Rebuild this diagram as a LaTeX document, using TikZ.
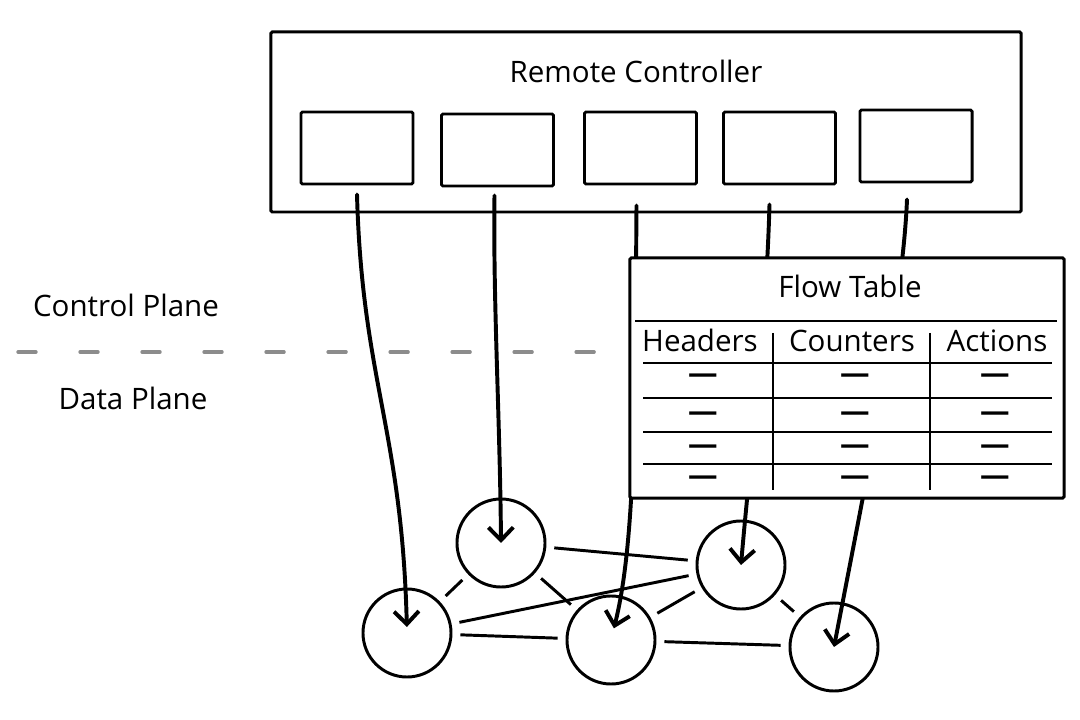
\documentclass[tikz,border=0pt]{standalone}
\usepackage{fontspec}
\setmainfont{Open Sans}
\usepackage{tikz}
\usetikzlibrary{arrows.meta,calc}
\definecolor{dgray}{RGB}{140,140,140}
\tikzstyle{arr}=[-{Straight Barb[length=0.32cm,width=0.62cm]},line width=2.8pt,line cap=round]

\begin{document}
\begin{tikzpicture}[x=0.025cm,y=-0.025cm]
  \tikzstyle box=[draw,line width=2.1pt,rounded corners=1pt,fill=white];
  \tikzstyle sw=[draw,circle,line width=2.1pt,minimum size=2.2cm,inner sep=0pt];
  \tikzstyle ln=[line width=2.1pt,shorten >=0.2cm,shorten <=0.2cm];
  \tikzstyle lbl=[font=\fontsize{21pt}{25pt}\selectfont,anchor=base,inner sep=0pt];
  \tikzstyle tl=[line width=2.1pt];
  \useasboundingbox (0,0) rectangle (1080,720);

  % controller
  \node[box,minimum width=18.75cm,minimum height=4.5cm] (rc) at (646,122) {};
  \node[lbl] (rctext) at (636,83) {Remote Controller};
  \foreach \x/\y [count=\i] in {357/148,497.5/150,640.5/148,779.5/148,916/146}
    \node[box,minimum width=2.8cm,minimum height=1.8cm] (b\i) at (\x,\y) {};

  % planes
  \node[lbl] (cp) at (126,317) {Control Plane};
  \node[lbl] (dp) at (133,410) {Data Plane};
  \draw[dgray,line width=2.4pt,line cap=round,dash pattern=on 0.45cm off 1.1cm] (18,352) -- (612,352);

  % switches
  \node[sw] (n1) at (407,633) {};
  \node[sw] (n2) at (501,543) {};
  \node[sw] (n3) at (611,640) {};
  \node[sw] (n4) at (741,565) {};
  \node[sw] (n5) at (834,647) {};
  \draw[ln] (n2) -- (n4);
  \draw[ln] (n1) -- (n2);
  \draw[ln] (n2) -- (n3);
  \draw[ln] (n1) -- (n4);
  \draw[ln] (n1) -- (n3);
  \draw[ln] (n3) -- (n4);
  \draw[ln] (n4) -- (n5);
  \draw[ln] (n3) -- (n5);

  % rules pushed down
  \draw[arr,shorten >=0.15cm] ($(b1.south)+(0,9)$) .. controls (362,380) and (402,430) .. (n1.center);
  \draw[arr] ($(b2.south)+(-3,8)$) .. controls (493,300) and (500,420) .. (n2.center);
  \draw[arr,shorten >=0.3cm] ($(b3.south)+(-4,20)$) .. controls (635,400) and (636,540) .. (n3.center);
  \draw[arr] ($(b4.south)+(-10,19)$) .. controls (766,330) and (750,460) .. (n4.center);
  \draw[arr] ($(b5.south)+(-9,16)$) .. controls (903,300) and (870,460) .. (n5.center);

  % flow table
  \node[box,minimum width=10.85cm,minimum height=6cm] (ft) at (847,378) {};
  \node[lbl] (fttext) at (850,298) {Flow Table};
  \draw[tl] (635,321) -- (1057,321);
  \node[lbl] (hd) at (700,352) {Headers};
  \node[lbl] (ct) at (852,352) {Counters};
  \node[lbl] (ac) at (997,352) {Actions};
  \draw[tl] (773,333) -- (773,490);
  \draw[tl] (930,333) -- (930,490);
  \foreach \y in {363,398,432,464}
    \draw[tl] (643,\y) -- (1052,\y);
  \foreach \y in {379,417,450,481}
    \foreach \x in {703,855,995}
      \node[font=\fontsize{21pt}{25pt}\selectfont\bfseries,inner sep=0pt] (d-\x-\y) at (\x,\y) {—};
\end{tikzpicture}
\end{document}
